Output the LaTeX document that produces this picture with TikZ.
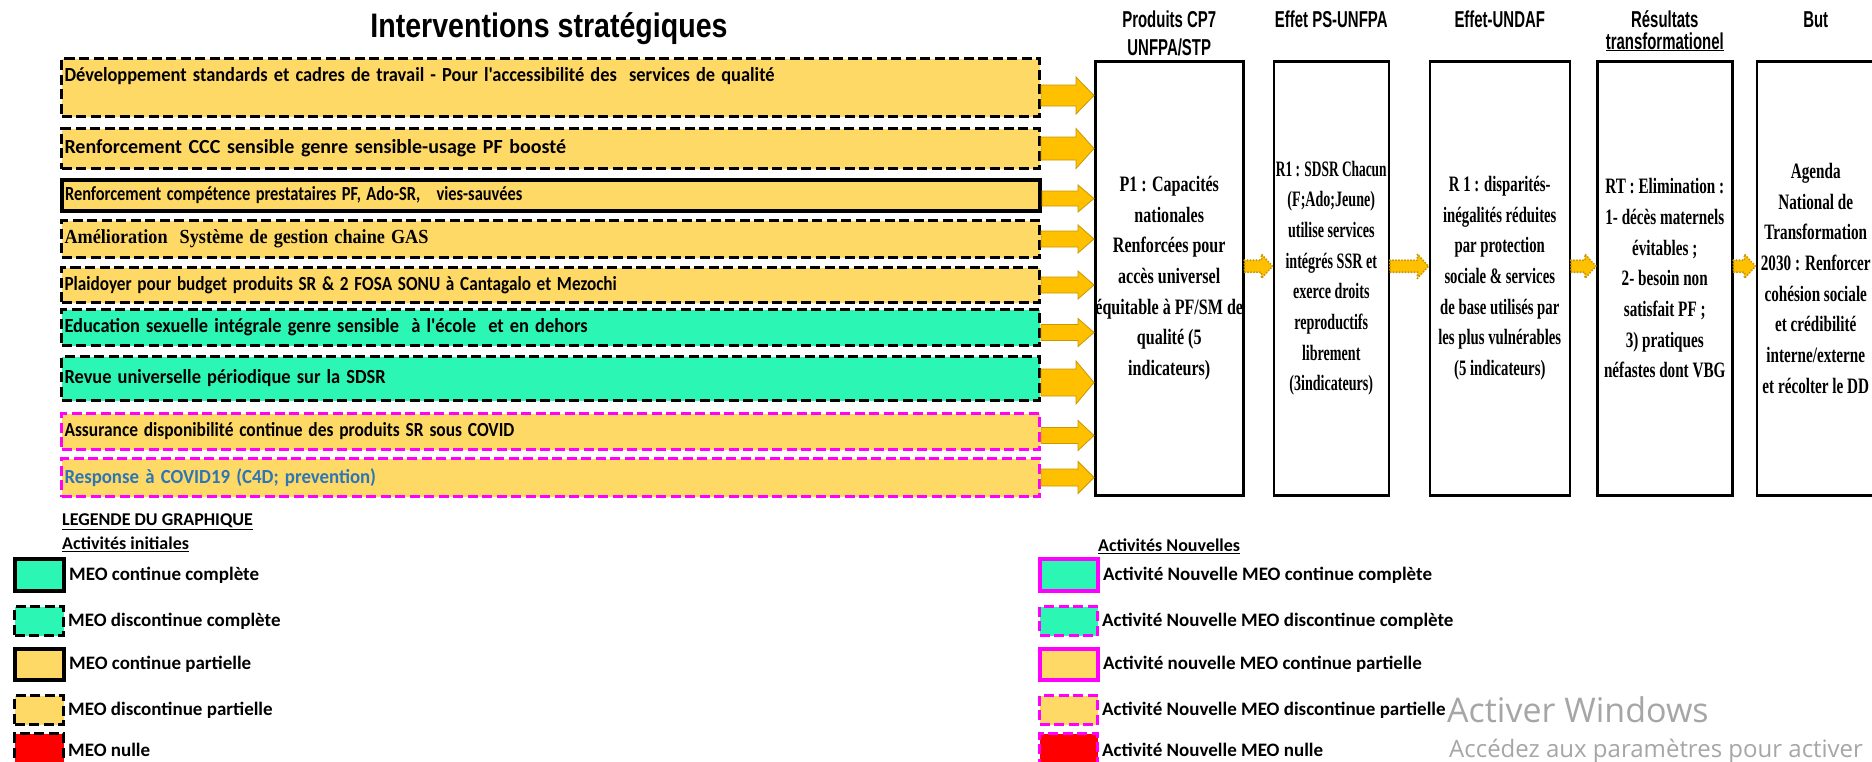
\documentclass[tikz,border=0pt]{standalone}
\usepackage{fontspec}
\usepackage{graphicx}
\setmainfont{Carlito}[Ligatures=TeXOff]
\newfontfamily\titrefont[FakeStretch=0.84]{Liberation Sans}
\newfontfamily\entetefont[FakeStretch=0.65]{Liberation Sans}
\newfontfamily\colfontA[FakeStretch=0.73]{Liberation Serif}
\newfontfamily\colfontB[FakeStretch=0.64]{Liberation Serif}
\newfontfamily\colfontC[FakeStretch=0.67]{Liberation Serif}
\newfontfamily\colfontD[FakeStretch=0.69]{Liberation Serif}
\newfontfamily\colfontE[FakeStretch=0.69]{Liberation Serif}
\newfontfamily\timesfont{Liberation Serif}
\newfontfamily\winfont{Open Sans}
\usepackage{tikz}
\usetikzlibrary{positioning,calc}
\definecolor{jaune}{HTML}{FFD966}
\definecolor{vert}{HTML}{2CF6B3}
\definecolor{rose}{HTML}{FF00FF}
\definecolor{rouge}{HTML}{FF0000}
\definecolor{ambre}{HTML}{FFC000}
\definecolor{ambrefonce}{HTML}{C99700}
\definecolor{bleutexte}{HTML}{2E75B6}
\definecolor{gristexte}{HTML}{A6A6A6}

\newcommand\serre[2]{\scalebox{#1}[1]{#2}}
\newcommand\flechebloc[6][]{%
  \path[#1] let \p1=(#2), \p2=(#3) in
    (\x1,\y1+#4) -- (\x2-#6,\y1+#4) -- (\x2-#6,\y1+#5) -- (\x2,\y1)
    -- (\x2-#6,\y1-#5) -- (\x2-#6,\y1-#4) -- (\x1,\y1-#4) -- cycle;}

\begin{document}
\begin{tikzpicture}[x=1pt, y=-1pt,
    titre/.style={anchor=base, inner sep=0pt, font=\titrefont\bfseries\fontsize{34}{40}\selectfont},
    boite/.style={anchor=north west, text width=972pt, inner xsep=3pt, inner ysep=0pt, align=left, font=\fontsize{20}{22}\selectfont\bfseries},
    tirnoir/.style={draw=black, line width=3pt, dash pattern=on 10pt off 4.5pt},
    pleinnoir/.style={draw=black, line width=4pt},
    tirrose/.style={draw=rose, line width=3pt, dash pattern=on 10pt off 4.5pt},
    pleinrose/.style={draw=rose, line width=4pt},
    col/.style={draw=black, line width=2.5pt, fill=white, minimum height=434pt, inner sep=0pt, align=center},
    colfont/.style={font=#1\bfseries\fontsize{22}{30.7}\selectfont},
    entete/.style={anchor=base, inner sep=0pt, align=center, font=\entetefont\bfseries\fontsize{23}{28}\selectfont},
    fleche/.style={fill=ambre, draw=ambrefonce, line width=0.8pt},
    petitefleche/.style={fill=ambre, draw=ambrefonce, line width=2.2pt, dash pattern=on 0pt off 3pt, line cap=round},
    carre/.style={anchor=north west, inner sep=0pt},
    legtexte/.style={inner sep=0pt, font=\fontsize{19}{22}\selectfont\bfseries},
    legtitre/.style={anchor=west, inner sep=0pt, font=\fontsize{18}{22}\selectfont\bfseries},
    filigrane/.style={anchor=base west, inner sep=0pt, text=gristexte}
  ]
    \useasboundingbox (0,0) rectangle (1872,761);
    \fill[white] (0,0) rectangle (1872,761);
    \clip (0,0) rectangle (1872,761);

    \node[titre] (titre) at (549,37) {Interventions stratégiques};

    \node[boite, tirnoir, fill=jaune, text height=23pt, text depth=35pt] (b1) at (60,57) {\serre{0.92}{Développement standards et cadres de travail - Pour l'accessibilité des\ \ services de qualité}};
    \node[boite, tirnoir, fill=jaune, minimum height=40pt] (b2) at (60,127) {\serre{1.0}{Renforcement CCC sensible genre sensible-usage PF boosté}};
    \node[boite, pleinnoir, fill=jaune, minimum height=31pt] (b3) at (60,178) {\serre{0.82}{Renforcement compétence prestataires PF, Ado-SR,\ \ \ vies-sauvées}};
    \node[boite, tirnoir, fill=jaune, minimum height=37pt, font=\timesfont\bfseries\fontsize{20}{22}\selectfont] (b4) at (60,219) {\serre{0.91}{Amélioration\ \ Système de gestion chaine GAS}};
    \node[boite, tirnoir, fill=jaune, minimum height=35pt] (b5) at (60,266) {\serre{0.86}{Plaidoyer pour budget produits SR \& 2 FOSA SONU à Cantagalo et Mezochi}};
    \node[boite, tirnoir, fill=vert, minimum height=36pt] (b6) at (60,308) {\serre{0.92}{Education sexuelle intégrale genre sensible\ \ à l'école\ \ et en dehors}};
    \node[boite, tirnoir, fill=vert, minimum height=44pt] (b7) at (60,355) {\serre{0.92}{Revue universelle périodique sur la SDSR}};
    \node[boite, tirrose, fill=jaune, minimum height=36pt] (b8) at (60,412) {\serre{0.87}{Assurance disponibilité continue des produits SR sous COVID}};
    \node[boite, tirrose, fill=jaune, minimum height=38pt, text=bleutexte] (b9) at (60,457) {\serre{0.94}{Response à COVID19 (C4D; prevention)}};

    \node[col, colfont=\colfontA, anchor=north west, minimum width=148pt] (c1) at (1094,60) {P1 : Capacités\\nationales\\Renforcées pour\\accès universel\\équitable à PF/SM de\\qualité (5\\indicateurs)};
    \node[col, colfont=\colfontB, minimum width=115pt, right=28pt of c1] (c2) {\serre{0.95}{R1 : SDSR Chacun}\\(F;Ado;Jeune)\\utilise services\\intégrés SSR et\\exerce droits\\reproductifs\\librement\\(3indicateurs)};
    \node[col, colfont=\colfontC, minimum width=140pt, right=38.5pt of c2] (c3) {R 1 : disparités-\\inégalités réduites\\par protection\\sociale \& services\\de base utilisés par\\les plus vulnérables\\(5 indicateurs)};
    \node[col, colfont=\colfontD, minimum width=135pt, right=25pt of c3] (c4) {RT : Elimination :\\1- décès maternels\\évitables ;\\2- besoin non\\satisfait PF ;\\3) pratiques\\néfastes dont VBG};
    \node[col, colfont=\colfontE, minimum width=118pt, right=22pt of c4] (c5) {Agenda\\National de\\Transformation\\2030 : Renforcer\\cohésion sociale\\et crédibilité\\interne/externe\\et récolter le DD};

    \node[entete] (h1) at (c1.north |- 0,55) {Produits CP7\\UNFPA/STP};
    \node[entete] (h2) at (c2.north |- 0,27) {Effet PS-UNFPA};
    \node[entete] (h3) at (c3.north |- 0,27) {Effet-UNDAF};
    \node[entete] (h4) at (c4.north |- 0,49) {Résultats\\[-6pt]\underline{transformationel}};
    \node[entete] (h5) at (c5.north |- 0,27) {But};

    \flechebloc[fleche]{$(b1.east)+(0,8)$}{c1.west}{10.5pt}{18.5pt}{18pt}
    \flechebloc[fleche]{b2.east}{c1.west}{11.5pt}{20pt}{18pt}
    \flechebloc[fleche]{$(b3.east)+(0,3)$}{c1.west}{7.5pt}{13.5pt}{16pt}
    \flechebloc[fleche]{b4.east}{c1.west}{8pt}{14pt}{16pt}
    \flechebloc[fleche]{b5.east}{c1.west}{8pt}{14pt}{16pt}
    \flechebloc[fleche]{$(b6.east)+(0,5)$}{c1.west}{8pt}{14pt}{16pt}
    \flechebloc[fleche]{$(b7.east)+(0,4)$}{c1.west}{13.5pt}{21.5pt}{18pt}
    \flechebloc[fleche]{$(b8.east)+(0,4)$}{c1.west}{8pt}{15pt}{16pt}
    \flechebloc[fleche]{b9.east}{c1.west}{8.5pt}{16pt}{16pt}

    \flechebloc[petitefleche]{$(c1.east)+(0,-12)$}{c2.west}{6pt}{12pt}{11pt}
    \flechebloc[petitefleche]{$(c2.east)+(0,-12)$}{c3.west}{6pt}{12pt}{11pt}
    \flechebloc[petitefleche]{$(c3.east)+(0,-12)$}{c4.west}{6pt}{12pt}{11pt}
    \flechebloc[petitefleche]{$(c4.east)+(0,-12)$}{c5.west}{6pt}{12pt}{11pt}

    \node[legtitre] (leg) at (62,522) {\underline{LEGENDE DU GRAPHIQUE}};
    \node[legtitre] (ini) at (62,544) {\underline{Activités initiales}};
    \node[legtitre] (nouv) at (1098,546) {\underline{Activités Nouvelles}};

    \node[carre, pleinnoir, fill=vert, minimum width=49pt, minimum height=32pt] (s1) at (13,557) {};
    \node[carre, tirnoir, fill=vert, minimum width=49pt, minimum height=29pt] (s2) at (13,605) {};
    \node[carre, pleinnoir, fill=jaune, minimum width=49pt, minimum height=31pt] (s3) at (13,647) {};
    \node[carre, tirnoir, fill=jaune, minimum width=49pt, minimum height=29pt] (s4) at (13,694) {};
    \node[carre, tirnoir, fill=rouge, minimum width=49pt, minimum height=33pt] (s5) at (13,732) {};
    \node[legtexte, right=3pt of s1] (l1) {MEO continue complète};
    \node[legtexte, right=3pt of s2] (l2) {MEO discontinue complète};
    \node[legtexte, right=3pt of s3] (l3) {MEO continue partielle};
    \node[legtexte, right=3pt of s4] (l4) {MEO discontinue partielle};
    \node[legtexte, right=3pt of s5] (l5) {MEO nulle};

    \node[carre, pleinrose, fill=vert, minimum width=58pt, minimum height=32pt] (n1) at (1038,557) {};
    \node[carre, tirrose, fill=vert, minimum width=58pt, minimum height=29pt] (n2) at (1038,605) {};
    \node[carre, pleinrose, fill=jaune, minimum width=58pt, minimum height=31pt] (n3) at (1038,647) {};
    \node[carre, tirrose, fill=jaune, minimum width=58pt, minimum height=29pt] (n4) at (1038,694) {};
    \node[carre, tirrose, fill=rouge, minimum width=58pt, minimum height=33pt] (n5) at (1038,732) {};
    \node[legtexte, right=3pt of n1] (m1) {Activité Nouvelle MEO continue complète};
    \node[legtexte, right=3pt of n2] (m2) {Activité Nouvelle MEO discontinue complète};
    \node[legtexte, right=3pt of n3] (m3) {Activité nouvelle MEO continue partielle};
    \node[legtexte, right=3pt of n4] (m4) {Activité Nouvelle MEO discontinue partielle};
    \node[legtexte, right=3pt of n5] (m5) {Activité Nouvelle MEO nulle};

    \node[filigrane, font=\winfont\fontsize{34}{40}\selectfont] (win1) at (1447,722) {Activer Windows};
    \node[filigrane, font=\winfont\fontsize{24}{28}\selectfont] (win2) at (1449,757) {Accédez aux paramètres pour activer};
  \end{tikzpicture}
\end{document}
